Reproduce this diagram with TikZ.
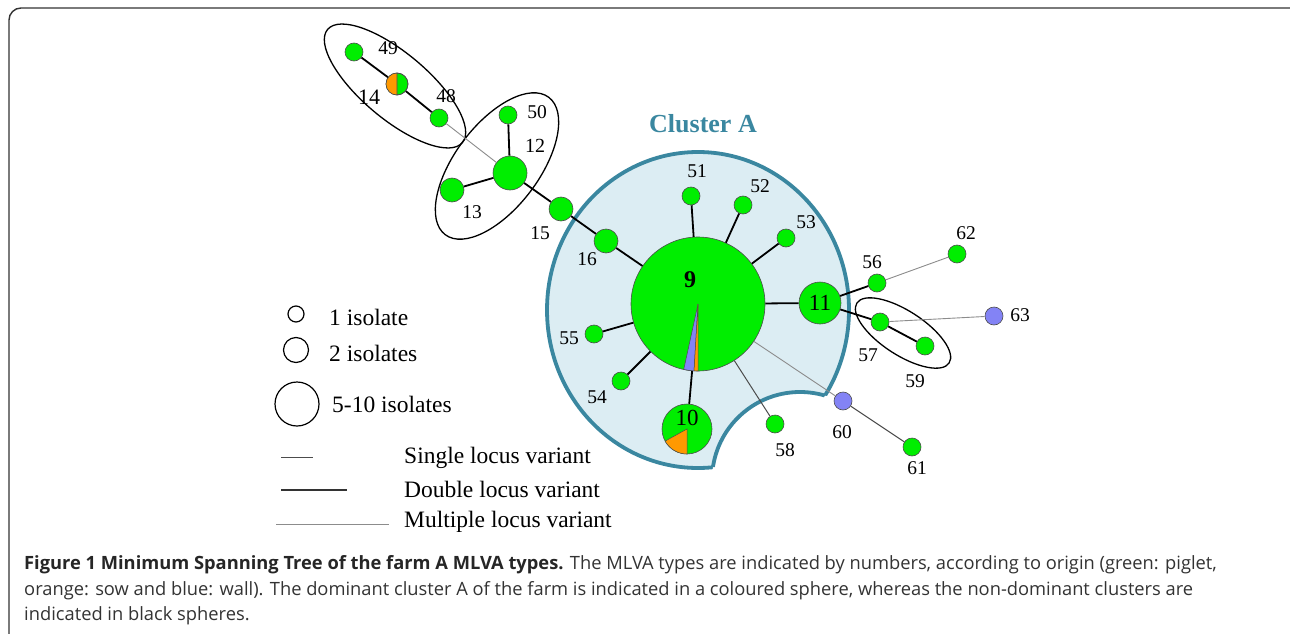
\documentclass[tikz,border=0pt]{standalone}
\usepackage{fontspec}
\setmainfont{Liberation Serif}
\newfontfamily\capfont{Open Sans}
\definecolor{pig}{HTML}{00EE00}
\definecolor{sow}{HTML}{FF9900}
\definecolor{wall}{HTML}{8383F5}
\definecolor{clline}{HTML}{3A87A0}
\definecolor{clfill}{HTML}{DCEDF3}
\definecolor{captxt}{HTML}{333333}
\begin{document}
\begin{tikzpicture}[x=1pt,y=-1pt,
  nd/.style={circle, draw=black!70, line width=0.6pt, fill=pig, inner sep=0pt, minimum size=#1},
  nd/.default=18pt,
  bl/.style={nd, fill=wall},
  lg/.style={circle, draw=black, line width=1.2pt, fill=white, inner sep=0pt, minimum size=#1},
  lab/.style={inner sep=0pt, font=\fontsize{19.5}{19.5}\selectfont},
  bigl/.style={inner sep=0pt, font=\fontsize{#1}{#1}\selectfont},
  leg/.style={inner sep=0pt, anchor=west, font=\fontsize{23.5}{23.5}\selectfont},
  captionline/.style={inner sep=0pt, anchor=base west, text=captxt, font=\capfont\fontsize{18.3}{18.3}\selectfont},
  dbl/.style={line width=1.8pt, black},
  sgl/.style={line width=1pt, black!70},
  mlt/.style={line width=0.9pt, black!45},
  wedgestyle/.style={draw=black!70, line width=0.5pt},
  clstroke/.style={draw=clline, line width=3.8pt}
]
\useasboundingbox (0,0) rectangle (1290,634);
\clip (0,0) rectangle (1290,634);
\fill[white] (0,0) rectangle (1290,634);
\draw[line width=1.4pt, black!80, rounded corners=12pt] (9,8) rectangle (1302,646);

% cluster A region
\fill[clfill] (698,310) ellipse[x radius=151, y radius=158];
\draw[clstroke] (698,310) ellipse[x radius=151, y radius=158];
\fill[white] (800,480) circle[radius=88];
\begin{scope}
  \clip (698,310) ellipse[x radius=151, y radius=158];
  \draw[clstroke] (800,480) circle[radius=88];
\end{scope}
\node[text=clline, inner sep=0pt, font=\bfseries\fontsize{26}{26}\selectfont] (clA) at (703,124) {Cluster A};

% black cluster ellipses
\draw[line width=1.3pt, black, rotate around={-40:(395,86)}] (395,86) ellipse[x radius=88, y radius=33];
\draw[line width=1.3pt, black, rotate around={53:(497,166)}] (497,166) ellipse[x radius=86, y radius=42];
\draw[line width=1.3pt, black, rotate around={-33:(903,333)}] (903,333) ellipse[x radius=55, y radius=22];

% nodes
\node[nd] (n49) at (354,52) {};
\node[nd=22pt] (n14) at (397,84) {};
\node[nd] (n48) at (439,118) {};
\node[nd] (n50) at (508,115) {};
\node[nd=34pt] (n12) at (510,173) {};
\node[nd=24pt] (n13) at (452,190) {};
\node[nd=24pt] (n15) at (561,209) {};
\node[nd=24pt] (n16) at (606,241) {};
\node[nd=134pt] (n9) at (698,304) {};
\node[nd] (n51) at (691,196) {};
\node[nd] (n52) at (743,205) {};
\node[nd] (n53) at (786,238) {};
\node[nd=42pt] (n11) at (820,303) {};
\node[nd] (n55) at (594,334) {};
\node[nd] (n54) at (621,381) {};
\node[nd=50pt] (n10) at (687,429) {};
\node[nd] (n58) at (775,424) {};
\node[nd] (n56) at (877,283) {};
\node[nd] (n57) at (880,322) {};
\node[nd] (n59) at (925,346) {};
\node[nd] (n62) at (957,254) {};
\node[bl] (n63) at (994,316) {};
\node[bl] (n60) at (843,401) {};
\node[nd] (n61) at (912,447) {};

% edges
\draw[dbl] (n49) -- (n14);
\draw[dbl] (n14) -- (n48);
\draw[mlt] (n48) -- (n12);
\draw[dbl] (n50) -- (n12);
\draw[dbl] (n13) -- (n12);
\draw[dbl] (n12) -- (n15);
\draw[dbl] (n15) -- (n16);
\draw[dbl] (n16) -- (n9);
\draw[dbl] (n9) -- (n51);
\draw[dbl] (n9) -- (n52);
\draw[dbl] (n9) -- (n53);
\draw[dbl] (n9) -- (n11);
\draw[dbl] (n9) -- (n55);
\draw[dbl] (n9) -- (n54);
\draw[dbl] (n9) -- (n10);
\draw[sgl] (n9) -- (n58);
\draw[mlt] (n9) -- (n60);
\draw[sgl] (n60) -- (n61);
\draw[dbl] (n11) -- (n56);
\draw[dbl] (n11) -- (n57);
\draw[dbl] (n57) -- (n59);
\draw[mlt] (n56) -- (n62);
\draw[mlt] (n57) -- (n63);

% pie slices
\fill[sow, shift={(n14.center)}] (0,-11) arc[start angle=270, end angle=90, radius=11] -- cycle;
\draw[black!70, line width=0.6pt, shift={(n14.center)}] (0,0) circle[radius=11] (0,-11) -- (0,11);
\filldraw[wedgestyle, fill=wall, shift={(n9.center)}] (0,0) -- (93.4:67) arc[start angle=93.4, end angle=102.3, radius=67] -- cycle;
\filldraw[wedgestyle, fill=sow, shift={(n9.center)}] (0,0) -- (90:67) arc[start angle=90, end angle=93.4, radius=67] -- cycle;
\filldraw[wedgestyle, fill=sow, shift={(n10.center)}] (0,0) -- (90:25) arc[start angle=90, end angle=151, radius=25] -- cycle;

% labels
\node[lab] (l49) at (388,48) {49};
\node[bigl=22] (l14) at (369,97) {14};
\node[lab] (l48) at (446,96) {48};
\node[lab] (l50) at (537,112) {50};
\node[bigl=20] (l12) at (535,146) {12};
\node[lab] (l13) at (472,212) {13};
\node[lab] (l15) at (540,233) {15};
\node[lab] (l16) at (587,259) {16};
\node[inner sep=0pt, font=\bfseries\fontsize{24}{24}\selectfont] (l9) at (690,280) {9};
\node[lab] (l51) at (697,171) {51};
\node[lab] (l52) at (760,186) {52};
\node[lab] (l53) at (806,222) {53};
\node[bigl=23] (l11) at (n11.center) {11};
\node[lab] (l55) at (569,338) {55};
\node[lab] (l54) at (597,397) {54};
\node[bigl=23] (l10) at (687,418) {10};
\node[lab] (l58) at (785,450) {58};
\node[lab] (l56) at (872,262) {56};
\node[lab] (l57) at (868,355) {57};
\node[lab] (l59) at (915,381) {59};
\node[lab] (l62) at (966,233) {62};
\node[lab] (l63) at (1020,315) {63};
\node[lab] (l60) at (842,432) {60};
\node[lab] (l61) at (917,468) {61};

% legend
\node[lg=16pt] (g1) at (296,314) {};
\node[lg=25pt] (g2) at (296,350) {};
\node[lg=44pt] (g3) at (297,404) {};
\node[leg] (t1) at (329,317) {1 isolate};
\node[leg] (t2) at (329,353) {2 isolates};
\node[leg] (t3) at (332,404) {5-10 isolates};
\coordinate (s1) at (281,457); \coordinate (s2) at (313,457);
\coordinate (d1) at (281,490); \coordinate (d2) at (347,490);
\coordinate (m1) at (276,524); \coordinate (m2) at (389,524);
\draw[sgl] (s1) -- (s2);
\draw[dbl, black!80] (d1) -- (d2);
\draw[mlt] (m1) -- (m2);
\node[leg] (t4) at (404,458) {Single locus variant};
\node[leg] (t5) at (404,489) {Double locus variant};
\node[leg] (t6) at (404,522) {Multiple locus variant};

% caption
\node[captionline] (c1) at (24,569) {{\bfseries\color{black!85}Figure 1 Minimum Spanning Tree of the farm A MLVA types.} The MLVA types are indicated by numbers, according to origin (green: piglet,};
\node[captionline] (c2) at (24,595) {orange: sow and blue: wall). The dominant cluster A of the farm is indicated in a coloured sphere, whereas the non-dominant clusters are};
\node[captionline] (c3) at (24,620) {indicated in black spheres.};
\end{tikzpicture}
\end{document}
